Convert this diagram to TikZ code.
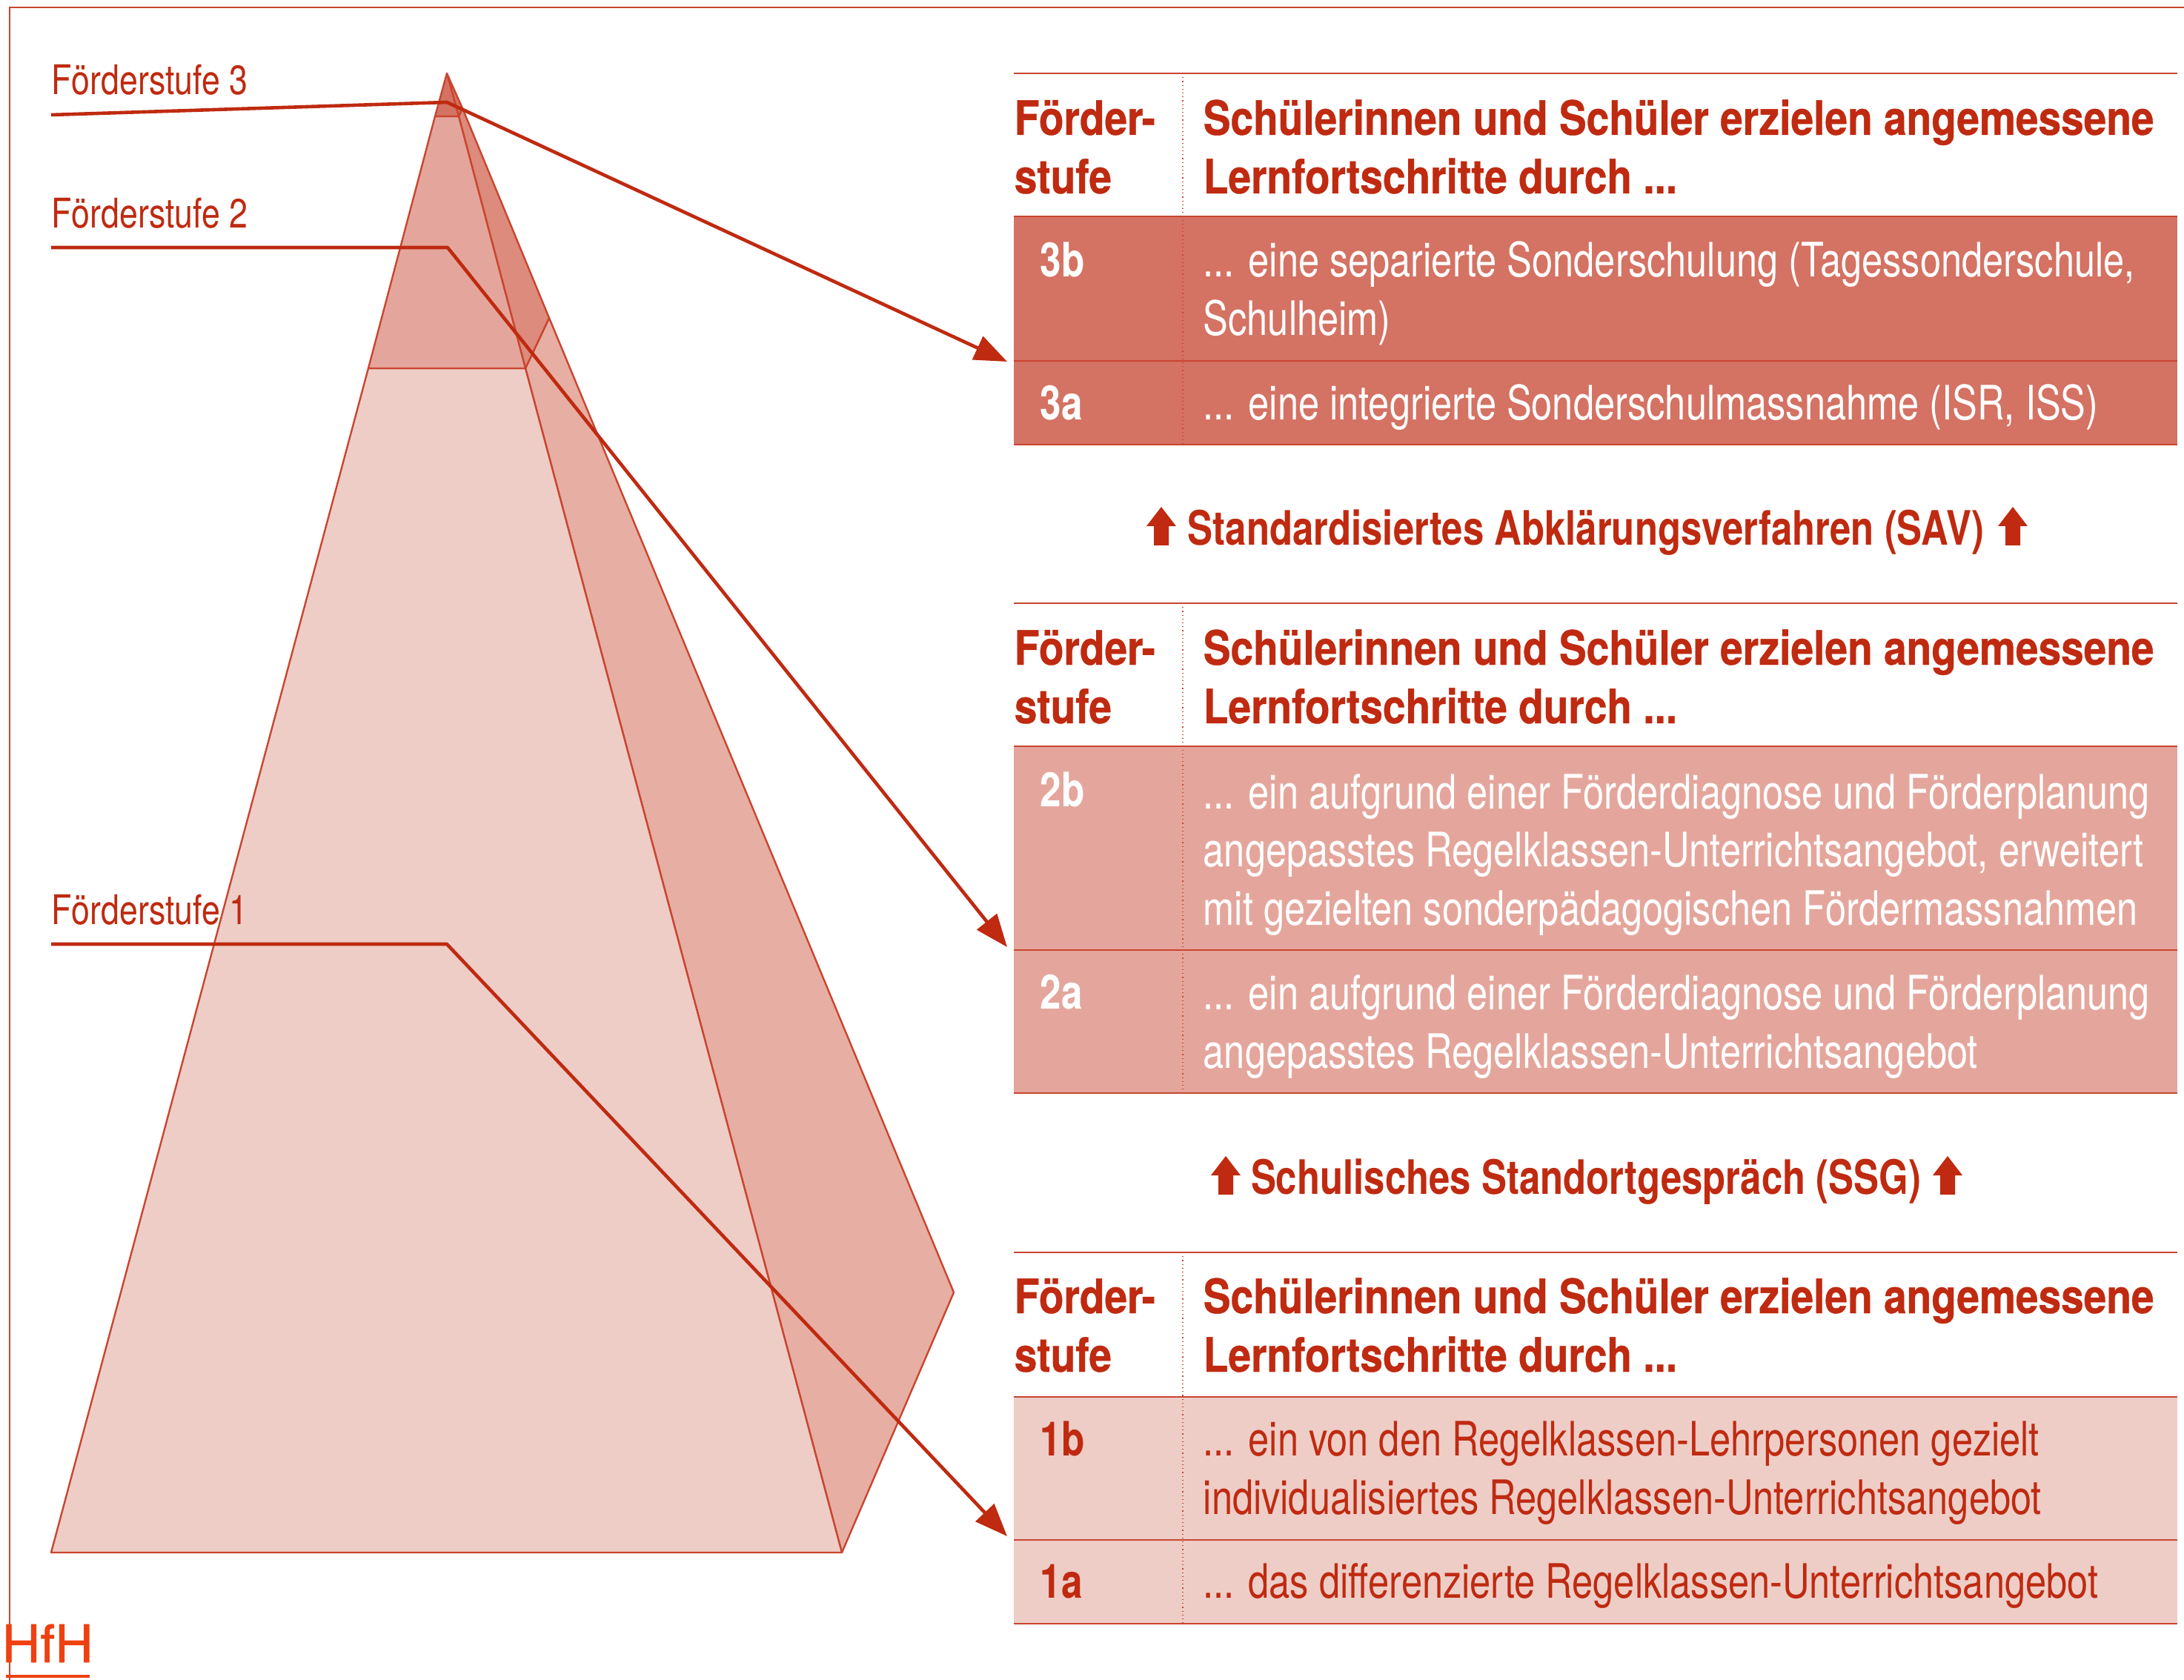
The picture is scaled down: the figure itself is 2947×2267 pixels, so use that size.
\documentclass[tikz,border=0pt]{standalone}
\usepackage{fontspec}
\usetikzlibrary{arrows.meta}
\newfontfamily\regf[FakeStretch=0.79]{TeX Gyre Heros}
\newfontfamily\sidef[FakeStretch=0.81]{TeX Gyre Heros}
\newfontfamily\headf[FakeStretch=0.86,FakeBold=0.6]{TeX Gyre Heros Bold}
\newfontfamily\boldf[FakeStretch=0.80]{TeX Gyre Heros Bold}
\newfontfamily\procf[FakeStretch=0.795]{TeX Gyre Heros Bold}
\newfontfamily\logof[FakeStretch=1.02,FakeBold=1]{TeX Gyre Heros}
\definecolor{hred}{HTML}{BF2A10}
\definecolor{hline}{HTML}{C9452F}
\definecolor{hlogo}{HTML}{EE4010}
\definecolor{rowc}{HTML}{D47263}
\definecolor{rowb}{HTML}{E4A69C}
\definecolor{rowa}{HTML}{EECDC7}
\definecolor{backa}{HTML}{E7AEA3}
\definecolor{backb}{HTML}{DC8B7C}
\tikzset{
  face/.style={draw=hline,line width=0.6pt,line join=round},
  leader/.style={draw=hred,line width=1.15pt,line join=round},
  pointer/.style={leader,-{Triangle[length=11pt,width=8.5pt]}},
  rule/.style={draw=hline,line width=0.7pt},
  dotrule/.style={draw=hline,line width=0.3pt,densely dotted},
  body/.style={anchor=base west,inner sep=0pt,align=left,font=\regf\fontsize{16pt}{19.75pt}\selectfont},
  head/.style={anchor=base west,inner sep=0pt,align=left,text=hred,font=\headf\fontsize{16pt}{19.75pt}\selectfont},
  tag/.style={anchor=base west,inner sep=0pt,font=\boldf\fontsize{16pt}{19.75pt}\selectfont},
  proc/.style={anchor=base,inner sep=0pt,text=hred,font=\procf\fontsize{16pt}{19.75pt}\selectfont},
  side/.style={anchor=base west,inner sep=0pt,text=hred,font=\sidef\fontsize{13.8pt}{16pt}\selectfont},
  upshape/.style={fill=hred,draw=none}
}
\newcommand{\uparrowat}[2]{% centre x, tip y
  \fill[upshape] (#1,#2) -- ++(20,26) -- ++(-10,0) -- ++(0,26) -- ++(-20,0) -- ++(0,-26) -- ++(-10,0) -- cycle;}
\newcommand{\levelrows}[5]{%
  % #1 top, #2 header bottom, #3 split, #4 bottom, #5 fill
  \fill[#5] (1368,#2) rectangle (2938,#4);
  \draw[rule] (1368,#1) -- (2938,#1);
  \draw[rule] (1368,#2) -- (2938,#2);
  \draw[rule] (1368,#3) -- (2938,#3);
  \draw[rule] (1368,#4) -- (2938,#4);
  \draw[dotrule] (1596,#1) -- (1596,#4);
}
\begin{document}
\begin{tikzpicture}[x=0.25pt,y=-0.25pt]
\useasboundingbox (0,0) rectangle (2947,2267);
\fill[white] (0,0) rectangle (2947,2267);
% frame
\draw[hline,line width=0.45pt] (2947,10) -- (13,10) -- (13,2267);
% named points
\coordinate (apex) at (603,99);
\coordinate (bl) at (69,2095);
\coordinate (br) at (1136,2095);
\coordinate (tip) at (1287,1744);
\coordinate (l3) at (587,157);
\coordinate (r3) at (619,157);
\coordinate (l2) at (497,497);
\coordinate (r2) at (709,497);
\coordinate (e3) at (624,146);
\coordinate (e2) at (741,429);
% pyramid back
\path[face,fill=backa] (r2) -- (e2) -- (tip) -- (br) -- cycle;
\path[face,fill=backb] (r3) -- (e3) -- (e2) -- (r2) -- cycle;
\path[face,fill=rowc] (apex) -- (e3) -- (r3) -- cycle;
% pyramid front
\path[face,fill=rowa] (l2) -- (r2) -- (br) -- (bl) -- cycle;
\path[face,fill=rowb] (l3) -- (r3) -- (r2) -- (l2) -- cycle;
\path[face,fill=rowc] (apex) -- (r3) -- (l3) -- cycle;
% tables
\levelrows{99}{292}{487}{600}{rowc}
\levelrows{814}{1007}{1282}{1475}{rowb}
\levelrows{1690}{1885}{2078}{2191}{rowa}
% table 3 text (a node's base is that of its last line)
\node[head] (h3a) at (1368,261) {Förder-\\stufe};
\node[head] (h3b) at (1623,261) {Schülerinnen und Schüler erzielen angemessene\\Lernfortschritte durch ...};
\node[tag,text=white] (t3b) at (1403,374) {3b};
\node[body,text=white] (b3b) at (1623,453) {... eine separierte Sonderschulung (Tagessonderschule,\\Schulheim)};
\node[tag,text=white] (t3a) at (1403,567) {3a};
\node[body,text=white] (b3a) at (1623,567) {... eine integrierte Sonderschulmassnahme (ISR, ISS)};
% table 2 text
\node[head] (h2a) at (1368,976) {Förder-\\stufe};
\node[head] (h2b) at (1623,976) {Schülerinnen und Schüler erzielen angemessene\\Lernfortschritte durch ...};
\node[tag,text=white] (t2b) at (1403,1089) {2b};
\node[body,text=white] (b2b) at (1623,1249) {... ein aufgrund einer Förderdiagnose und Förderplanung\\angepasstes Regelklassen-Unterrichtsangebot, erweitert\\mit gezielten sonderpädagogischen Fördermassnahmen};
\node[tag,text=white] (t2a) at (1403,1362) {2a};
\node[body,text=white] (b2a) at (1623,1441) {... ein aufgrund einer Förderdiagnose und Förderplanung\\angepasstes Regelklassen-Unterrichtsangebot};
% table 1 text
\node[head] (h1a) at (1368,1851) {Förder-\\stufe};
\node[head] (h1b) at (1623,1851) {Schülerinnen und Schüler erzielen angemessene\\Lernfortschritte durch ...};
\node[tag,text=hred] (t1b) at (1403,1964) {1b};
\node[body,text=hred] (b1b) at (1623,2043) {... ein von den Regelklassen-Lehrpersonen gezielt\\individualisiertes Regelklassen-Unterrichtsangebot};
\node[tag,text=hred] (t1a) at (1403,2156) {1a};
\node[body,text=hred] (b1a) at (1623,2156) {... das differenzierte Regelklassen-Unterrichtsangebot};
% procedures
\node[proc] (sav) at (2140,736) {Standardisiertes Abklärungsverfahren (SAV)};
\uparrowat{1567}{684}
\uparrowat{2716}{684}
\node[proc] (ssg) at (2140,1611) {Schulisches Standortgespräch (SSG)};
\uparrowat{1654}{1560}
\uparrowat{2628}{1560}
% side labels
\node[side] (s3) at (69,128) {Förderstufe 3};
\node[side] (s2) at (69,308) {Förderstufe 2};
\node[side] (s1) at (69,1248) {Förderstufe 1};
% leaders
\coordinate (a3) at (69,155); \coordinate (k3) at (603,138); \coordinate (p3) at (1359,488);
\coordinate (a2) at (69,334); \coordinate (k2) at (604,334); \coordinate (p2) at (1359,1278);
\coordinate (a1) at (69,1274); \coordinate (k1) at (603,1274); \coordinate (p1) at (1359,2073);
\draw[pointer] (a3) -- (k3) -- (p3);
\draw[pointer] (a2) -- (k2) -- (p2);
\draw[pointer] (a1) -- (k1) -- (p1);
% logo
\node[anchor=base west,inner sep=0pt,text=hlogo,font=\logof\fontsize{17.5pt}{20pt}\selectfont] (logo) at (2,2243) {HfH};
\coordinate (u1) at (8,2262); \coordinate (u2) at (121,2262);
\draw[hlogo,line width=1pt] (u1) -- (u2);
\end{tikzpicture}
\end{document}
